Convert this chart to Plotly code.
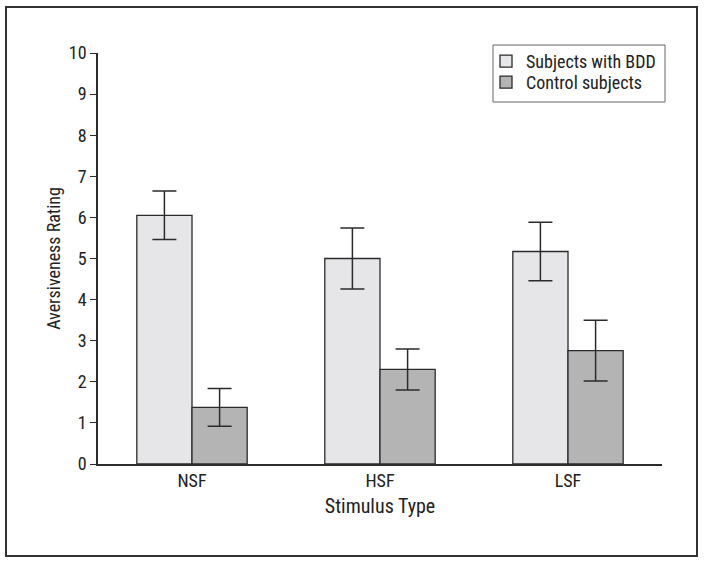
import plotly.graph_objects as go

categories = ["NSF", "HSF", "LSF"]
bdd_values = [6.05, 5.00, 5.17]
bdd_errors = [0.59, 0.74, 0.71]
control_values = [1.38, 2.30, 2.76]
control_errors = [0.46, 0.50, 0.74]
y_ticks = list(range(0, 11))

FONT = "Roboto Condensed, Liberation Sans Narrow, sans-serif"
line_col = "#2b2b2b"

fig = go.Figure()
fig.add_trace(go.Bar(
    name="Subjects with BDD", x=categories, y=bdd_values, legend="legend",
    marker=dict(color="#e6e6e8", line=dict(color=line_col, width=1.3)),
    error_y=dict(type="data", array=bdd_errors, color=line_col, thickness=1.5, width=12),
))
fig.add_trace(go.Bar(
    name="Control subjects", x=categories, y=control_values, legend="legend2",
    marker=dict(color="#b4b4b4", line=dict(color=line_col, width=1.3)),
    error_y=dict(type="data", array=control_errors, color=line_col, thickness=1.5, width=12),
))

L, R, T, B = 98, 42, 53, 100
W, H = 704, 564
pw, ph = W - L - R, H - T - B

def px2paper_x(px):
    return (px - L) / pw

def py2paper_y(py):
    return (H - B - py) / ph

legend_style = dict(
    xanchor="left", yanchor="top", bgcolor="rgba(0,0,0,0)", borderwidth=0,
    font=dict(family=FONT, size=18, color="#222222"), itemwidth=30,
)

fig.update_layout(
    width=W, height=H,
    margin=dict(l=L, r=R, t=T, b=B, autoexpand=False),
    paper_bgcolor="white", plot_bgcolor="white",
    barmode="group", bargap=0.413, bargroupgap=0,
    font=dict(family=FONT, size=18, color="#222222"),
    showlegend=True,
    legend=dict(x=px2paper_x(486), y=py2paper_y(43), **legend_style),
    legend2=dict(x=px2paper_x(486), y=py2paper_y(64), **legend_style),
    xaxis=dict(
        range=[-0.5, 2.5], showline=True, linecolor=line_col, linewidth=1.5,
        ticks="", showgrid=False, zeroline=False,
        tickfont=dict(family=FONT, size=18),
        title=dict(text="Stimulus Type", font=dict(family=FONT, size=20), standoff=9),
    ),
    yaxis=dict(
        range=[0, 10], tickvals=y_ticks, showline=True, linecolor=line_col, linewidth=1.5,
        ticks="outside", ticklen=6, tickcolor=line_col, tickwidth=1.3,
        showgrid=False, zeroline=False,
        tickfont=dict(family=FONT, size=18),
        title=dict(text="Aversiveness Rating", font=dict(family=FONT, size=18), standoff=4),
    ),
    shapes=[
        dict(type="rect", xref="paper", yref="paper",
             x0=px2paper_x(6), x1=px2paper_x(697), y0=py2paper_y(556), y1=py2paper_y(7),
             line=dict(color="#333333", width=2), fillcolor="rgba(0,0,0,0)", layer="below"),
        dict(type="rect", xref="paper", yref="paper",
             x0=px2paper_x(493), x1=px2paper_x(665), y0=py2paper_y(102), y1=py2paper_y(45),
             line=dict(color="#666666", width=1), fillcolor="rgba(0,0,0,0)", layer="below"),
    ],
)

fig.write_html("out.html", config={"displayModeBar": False},
               post_script="document.body.style.margin='0';")
